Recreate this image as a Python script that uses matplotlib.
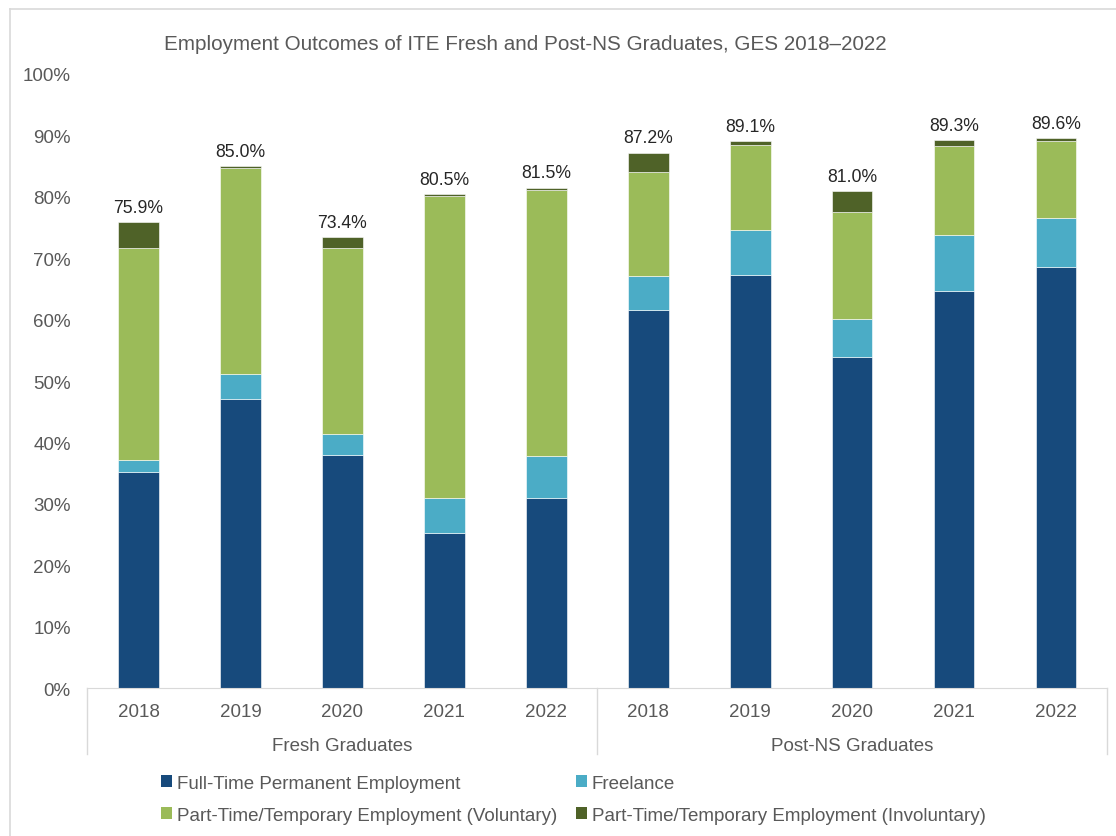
import numpy as np
import matplotlib
matplotlib.use('Agg')
import matplotlib.pyplot as plt
from matplotlib.patches import Patch
from matplotlib.lines import Line2D

plt.rcParams['font.family'] = ['Liberation Sans', 'DejaVu Sans']

# data
groups = ['Fresh Graduates', 'Post-NS Graduates']
years = ['2018', '2019', '2020', '2021', '2022']
full_time = [35.2, 47.0, 38.0, 25.3, 31.0, 61.6, 67.3, 53.9, 64.7, 68.6]
freelance = [1.9, 4.1, 3.3, 5.7, 6.8, 5.5, 7.3, 6.2, 9.0, 8.0]
pt_voluntary = [34.6, 33.6, 30.3, 49.2, 43.3, 16.9, 13.9, 17.5, 14.6, 12.5]
pt_involuntary = [4.2, 0.3, 1.8, 0.3, 0.4, 3.2, 0.6, 3.4, 1.0, 0.5]
totals = [75.9, 85.0, 73.4, 80.5, 81.5, 87.2, 89.1, 81.0, 89.3, 89.6]

series = [
    ('Full-Time Permanent Employment', full_time, '#174A7C'),
    ('Freelance', freelance, '#4BACC6'),
    ('Part-Time/Temporary Employment (Voluntary)', pt_voluntary, '#9BBB59'),
    ('Part-Time/Temporary Employment (Involuntary)', pt_involuntary, '#4F6228'),
]

grey = '#595959'
line_grey = '#D9D9D9'

fig = plt.figure(figsize=(11.16, 8.37), dpi=100)

# chart area border (only top and left edges are visible in the crop)
fig.lines.append(Line2D([10 / 1116, 1.0], [1 - 10 / 837, 1 - 10 / 837],
                        transform=fig.transFigure, color=line_grey, linewidth=1.2))
fig.lines.append(Line2D([10 / 1116, 10 / 1116], [0, 1 - 10 / 837],
                        transform=fig.transFigure, color=line_grey, linewidth=1.2))

ax = fig.add_axes([0.0784, 0.1768, 0.9135, 0.7336])

x = np.arange(len(full_time))
bottom = np.zeros(len(x))
handles = []
for name, vals, color in series:
    ax.bar(x, vals, width=0.4, bottom=bottom, color=color,
           edgecolor='white', linewidth=0.4, label=name)
    bottom += np.array(vals)
    handles.append(Patch(facecolor=color, label=name))

for xi, t in zip(x, totals):
    ax.text(xi, t + 1.0, '%.1f%%' % t, ha='center', va='bottom',
            fontsize=12.7, color='#262626')

ax.set_xlim(-0.5, len(x) - 0.5)
ax.set_ylim(0, 100)
ax.set_yticks(np.arange(0, 101, 10))
ax.set_yticklabels(['%d%%' % v for v in range(0, 101, 10)])
ax.tick_params(axis='y', length=0, labelsize=13.5, labelcolor=grey, pad=12)
ax.set_xticks(x)
ax.set_xticklabels(years * 2)
ax.tick_params(axis='x', length=0, labelsize=13.5, labelcolor=grey, pad=10.5)

for s in ['top', 'right', 'left']:
    ax.spines[s].set_visible(False)
ax.spines['bottom'].set_color(line_grey)

# two-level category axis separators and group labels
for xs in [-0.5, 4.5, 9.5]:
    ax.plot([xs, xs], [0, -10.75], color=line_grey, linewidth=1, clip_on=False)
for gi, g in enumerate(groups):
    ax.text(2 + gi * 5, -9.3, g, ha='center', va='center', fontsize=13.5, color=grey)

fig.text(0.4709, 0.947, 'Employment Outcomes of ITE Fresh and Post-NS Graduates, GES 2018\u20132022',
         ha='center', va='center', fontsize=14.9, color=grey)

order = [handles[0], handles[2], handles[1], handles[3]]
leg = fig.legend(handles=order, labels=[h.get_label() for h in order], ncol=2,
                 loc='center left', bbox_to_anchor=(0.129, 0.0442), frameon=False,
                 fontsize=13.5, handlelength=0.6, handleheight=0.6, handletextpad=0.25,
                 columnspacing=1.0, labelspacing=0.8)
for t in leg.get_texts():
    t.set_color(grey)

fig.savefig('out.png', dpi=100)
